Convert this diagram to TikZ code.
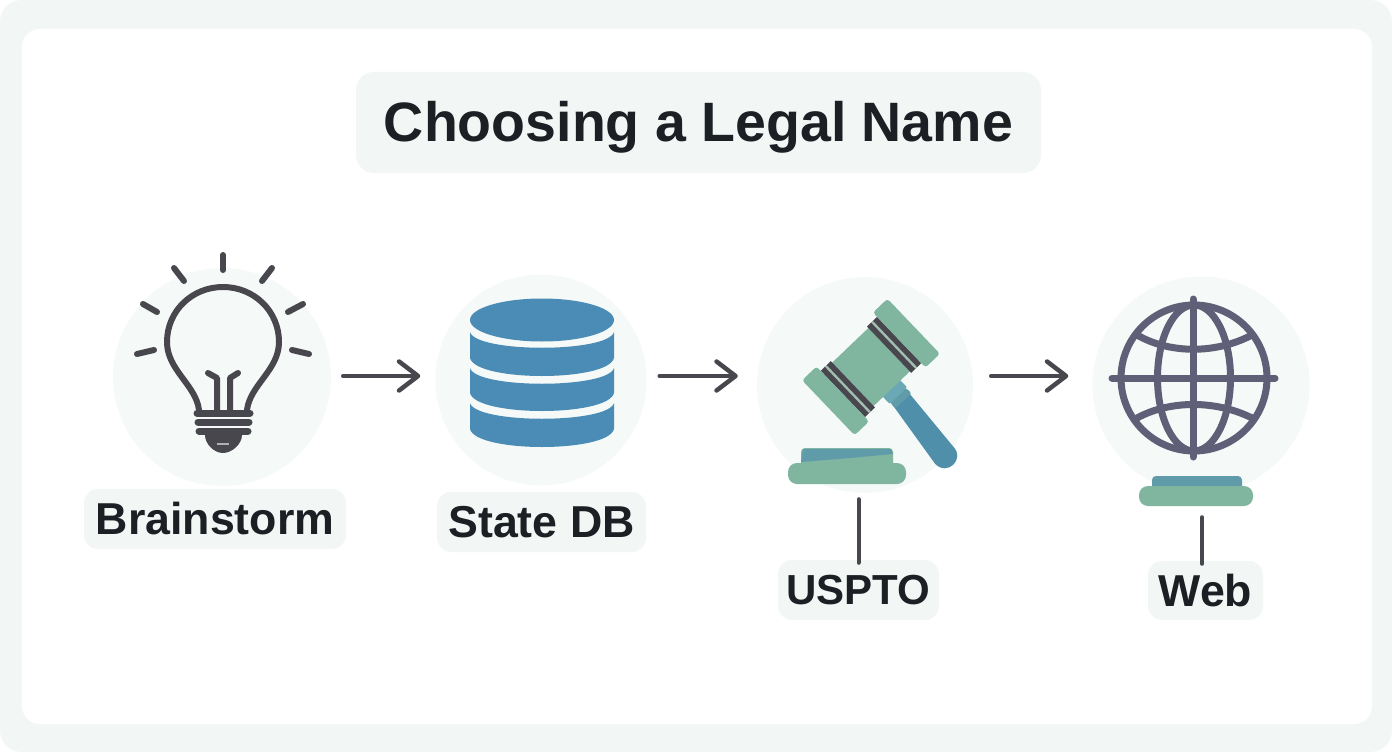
\documentclass[tikz,border=0pt]{standalone}
\usepackage{fontspec}
\setmainfont{Liberation Sans}
\usetikzlibrary{arrows.meta}
\definecolor{paleBg}{HTML}{F2F7F6}
\definecolor{inkDark}{HTML}{1C2024}
\definecolor{lineDark}{HTML}{47474D}
\definecolor{dbBlue}{HTML}{4A8CB6}
\definecolor{gavelGreen}{HTML}{80B59F}
\definecolor{gavelTeal}{HTML}{5F9BA8}
\definecolor{collarTeal}{HTML}{6AA8B5}
\definecolor{handleBlue}{HTML}{4F8FA9}
\definecolor{stripeGrey}{HTML}{A3BDB1}
\definecolor{globeInk}{HTML}{5F5F78}
\tikzset{
    discNode/.style={circle, fill=paleBg!75!white, inner sep=0pt, minimum size=#1},
    pillNode/.style={rectangle, rounded corners=14pt, fill=paleBg, inner sep=0pt, text=inkDark, font=\fontsize{44.7}{50}\selectfont\bfseries},
    slabNode/.style={rectangle, rounded corners=9pt, fill=gavelGreen, inner sep=0pt},
    flowEdge/.style={-{Straight Barb[length=19pt, width=29pt, round]}, line width=4.5pt, color=lineDark, line cap=round},
    stemEdge/.style={line width=4pt, color=lineDark, line cap=round, shorten <=-3pt, shorten >=15pt},
    bulbLine/.style={line width=6pt, color=lineDark, line cap=round, line join=round},
    bulbBar/.style={line width=7pt, color=lineDark, line cap=round},
    globeLine/.style={line width=7pt, color=globeInk, line cap=round},
}
\newcommand{\drawFlow}[4]{
    \draw[flowEdge, shorten <=#3pt, shorten >=#4pt] (#1.east |- flowRow) -- (#2.west |- flowRow);
}
\newcommand{\drawBand}[2]{
    \fill[dbBlue] (470,#1) .. controls (476,#1+21) and (608,#1+21) .. (614,#1) -- (614,#2) .. controls (608,#2+24) and (476,#2+24) .. (470,#2) -- cycle;
}
\begin{document}
\begin{tikzpicture}[x=1pt, y=-1pt]
    \useasboundingbox (0,0) rectangle (1392,752);
    \fill[white] (0,0) rectangle (1392,752);
    \fill[paleBg, rounded corners=22pt] (0,0) rectangle (1392,752);
    \fill[white, rounded corners=18pt] (22,29) rectangle (1372,724);

    \node[pillNode, rounded corners=18pt, minimum width=685pt, minimum height=101pt, text height=50pt, text depth=11.5pt, font=\fontsize{55.5}{60}\selectfont\bfseries] (titleLabel) at (698.5,122.5) {Choosing a Legal Name};

    \node[discNode=218pt] (brainDisc) at (222,377) {};
    \node[discNode=211pt] (dbDisc) at (541,380) {};
    \node[discNode=216pt] (gavelDisc) at (865,385) {};
    \node[discNode=217pt] (globeDisc) at (1201,385) {};
    \coordinate (flowRow) at (0,376);
    \coordinate (webStem) at (1202,0);

    \node[pillNode, minimum width=262pt, minimum height=60pt] (brainLabel) at (215,519) {Brainstorm};
    \node[pillNode, minimum width=209pt, minimum height=60pt] (dbLabel) at (541.5,522) {State DB};
    \node[pillNode, minimum width=161pt, minimum height=60pt, font=\fontsize{42}{50}\selectfont\bfseries] (usptoLabel) at (858.5,590) {USPTO};
    \node[pillNode, minimum width=115pt, minimum height=59pt] (webLabel) at (1205.5,590.5) {Web};

    \drawFlow{brainDisc}{dbDisc}{12}{15}
    \drawFlow{dbDisc}{gavelDisc}{13}{19}
    \drawFlow{gavelDisc}{globeDisc}{18}{24}

    % bulb
    \draw[bulbLine] (199,410) .. controls (196,385) and (167,370) .. (167,342) .. controls (167,311) and (192,287) .. (223,287) .. controls (254,287) and (279,311) .. (279,342) .. controls (279,370) and (250,385) .. (247,410);
    \draw[bulbLine] (208,373) -- (217,378) -- (217,411);
    \draw[bulbLine] (238,373) -- (230,378) -- (230,411);
    \draw[bulbBar] (197,413) -- (250,413);
    \draw[bulbBar] (198,422) -- (249,422);
    \draw[bulbBar] (199,431) -- (248,431);
    \fill[lineDark] (205,435) -- (242,435) .. controls (242,444) and (232,453) .. (223,453) .. controls (214,453) and (205,444) .. (205,435) -- cycle;
    \fill[paleBg!60!lineDark] (217,443) rectangle (229,445);
    \foreach \xa/\ya/\xb/\yb in {223/255/223/270, 174/268/184/281, 143/304/157/312, 137/354/154/350, 262/281/272/268, 288/312/303/304, 292/350/309/354}
        \draw[bulbLine] (\xa,\ya) -- (\xb,\yb);

    % database
    \fill[dbBlue] (542,320) ellipse[x radius=72pt, y radius=21.5pt];
    \drawBand{332}{358}
    \drawBand{368}{393}
    \drawBand{403}{429}

    % gavel
    \begin{scope}[shift={(871,367)}, rotate=43.7]
        \fill[handleBlue] (-10,38) -- (-20.5,114) .. controls (-21,132) and (5,132) .. (4.5,114) -- (10,38) -- cycle;
        \fill[collarTeal, rounded corners=2pt] (-12,28) rectangle (12,40);
        \fill[gavelTeal, rounded corners=2pt] (-11,40) rectangle (11,47);
        \fill[gavelGreen] (-25,-30) rectangle (25,30);
        \foreach \off in {-39,25}{
            \fill[lineDark] (\off,-32) rectangle (\off+14,32);
            \fill[stripeGrey] (\off+5.8,-32) rectangle (\off+8.2,32);
        }
        \fill[gavelGreen, rounded corners=3pt] (-59,-38) rectangle (-39,38);
        \fill[gavelGreen, rounded corners=3pt] (39,-38) rectangle (59,38);
    \end{scope}
    \fill[gavelGreen, rounded corners=4pt] (801,448) rectangle (893,470);
    \fill[gavelTeal] (803,449) -- (891,449) -- (893,454) -- (850,458) -- (801,462) -- cycle;
    \node[slabNode, minimum width=118pt, minimum height=21pt] (gavelBase) at (847,473.5) {};

    % globe
    \draw[globeLine] (1194,378) circle[radius=73pt];
    \draw[globeLine] (1194,378) ellipse[x radius=36.5pt, y radius=73pt];
    \draw[globeLine] (1112,378) -- (1275,378);
    \draw[globeLine] (1193,299) -- (1193,457);
    \draw[globeLine] (1137,335) .. controls (1170,354) and (1216,354) .. (1252,335);
    \draw[globeLine] (1137,418) .. controls (1170,400) and (1216,400) .. (1252,418);
    \fill[gavelTeal, rounded corners=4pt] (1152,476) rectangle (1242,494);
    \node[slabNode, minimum width=114pt, minimum height=20pt] (globeBase) at (1196,496) {};

    \draw[stemEdge] (usptoLabel.north) -- (usptoLabel.north |- gavelBase.south);
    \draw[stemEdge, shorten >=11pt] (webStem |- webLabel.north) -- (webStem |- globeBase.south);
\end{tikzpicture}
\end{document}
